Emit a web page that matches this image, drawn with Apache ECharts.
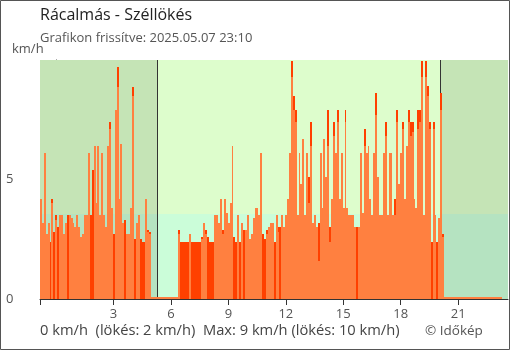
<!DOCTYPE html>
<html><head><meta charset="utf-8">
<script src="https://cdn.jsdelivr.net/npm/echarts@6/dist/echarts.min.js"></script>
<style>html,body{margin:0;padding:0;background:#fff}#c{width:510px;height:350px}</style>
</head><body><div id="c"></div>
<script>
const titleText = 'Rácalmás - Széllökés';
const subtitleText = 'Grafikon frissítve: 2025.05.07 23:10';
const summaryText = '0 km/h  (lökés: 2 km/h)  Max: 9 km/h (lökés: 10 km/h)';
const creditText = '© Időkép';
const unitText = 'km/h';
const startHour = -50 / 60;   // 23:10 on the previous day
const stepHours = 0.1;        // one reading every 6 minutes
const endHour = 23.6;
const xTickLabels = [3, 6, 9, 12, 15, 18, 21];
const yTickLabels = [0, 5];
const sunriseHour = 5.3;
const sunsetHour = 20.08;
const calmLimit = 3.56;
const yMax = 10;

// average wind (km/h)
const windAvg = [
  4.2,3.2,6.1,2.7,3.2,0,4.0,0,3.3,0,
  3.5,3.5,2.7,3.2,0,3.5,3.4,3.2,3.0,3.5,
  3.0,2.6,2.7,3.5,3.5,6.1,0,0,6.4,4.0,
  6.4,3.5,6.1,3.5,3.0,6.4,7.1,3.8,0,7.9,
  8.85,4.2,6.5,3.2,0,2.7,2.7,3.8,8.5,0,
  3.2,3.5,0,0,0,4.2,2.8,2.7,0,0,
  0,0,0,0,0,0,0,0,0,0,
  0,0,2.7,0,0,0,0,0,2.7,0,
  0,0,0,0,2.5,3.2,2.7,0,0,0,
  0,3.5,3.5,3.2,4.2,2.7,4.2,3.6,3.2,4.0,
  6.4,0,0,3.5,0,3.2,0,2.9,3.5,2.5,
  2.7,3.4,3.8,3.8,3.5,6.1,0,0,2.7,3.0,
  3.2,3.2,0,3.5,2.8,0,3.5,3.0,3.5,4.2,
  6.1,9.3,7.9,7.4,3.5,6.1,4.8,6.7,3.5,6.1,
  4.0,6.4,3.2,3.5,3.0,1.6,6.1,3.8,6.7,5.1,
  6.4,2.4,4.2,6.8,6.1,7.4,4.2,6.1,3.8,7.4,
  3.8,3.5,3.5,3.5,3.0,0,3.0,6.1,3.6,6.4,
  6.1,6.4,4.2,3.5,6.1,7.7,5.1,3.5,3.5,6.1,
  6.8,3.5,6.1,6.1,3.5,3.5,7.4,4.8,6.1,7.1,
  4.2,6.4,7.4,6.8,7.0,4.2,3.8,7.1,7.4,9.3,
  3.5,9.3,8.5,7.1,0,7.1,3.5,0,3.4,7.9,
  2.6,0,0,0,0,0,0,0,0,0,
  0,0,0,0,0,0,0,0,0,0,
  0,0,0,0,0,0,0,0,0,0,
  0
];
// gusts (km/h)
const windGust = [
  4.2,3.2,6.1,2.7,3.2,2.4,4.2,2.8,3.5,3.0,
  3.5,3.5,2.7,3.2,3.5,3.5,3.4,3.2,3.0,3.5,
  3.0,2.6,2.7,3.5,3.5,6.1,3.5,5.4,6.4,4.0,
  6.4,3.5,6.1,3.5,3.0,6.4,7.4,3.8,2.7,7.9,
  9.7,4.2,6.5,3.2,3.3,2.7,2.7,3.8,8.85,2.5,
  3.2,3.5,2.5,2.4,2.4,4.2,2.9,2.8,0,0,
  0,0,0,0,0,0,0,0,0,0,
  0,0,2.9,2.4,2.4,2.4,2.4,2.4,2.7,2.4,
  2.4,2.4,2.4,2.4,2.6,3.2,2.9,2.6,2.4,2.4,
  2.4,3.5,3.5,3.2,4.2,2.9,4.2,3.6,3.2,4.0,
  6.4,2.6,2.4,3.5,2.4,3.2,2.9,2.9,3.5,2.5,
  2.7,3.4,3.8,3.8,3.5,6.1,2.7,2.5,2.9,3.0,
  3.2,3.2,2.4,3.5,3.0,3.0,3.5,3.0,3.5,4.2,
  6.1,9.96,8.5,7.9,3.5,6.1,4.8,6.7,3.5,6.1,
  5.1,7.4,3.2,3.5,3.0,3.2,6.1,3.8,6.7,5.1,
  7.9,3.0,4.2,7.4,6.1,7.9,4.2,6.1,3.8,7.9,
  3.8,3.5,3.5,3.5,3.0,3.0,3.0,6.1,3.6,7.1,
  6.1,6.4,4.2,3.5,6.1,8.6,5.1,3.5,3.5,6.1,
  7.4,3.5,6.1,6.1,3.5,4.2,7.9,4.8,6.1,7.4,
  4.2,6.4,7.9,7.4,7.4,4.2,3.8,7.9,7.9,9.96,
  3.5,9.96,8.9,7.4,2.4,7.4,3.5,2.4,3.4,8.6,
  2.7,0,0,0,0,0,0,0,0,0,
  0,0,0,0,0,0,0,0,0,0,
  0,0,0,0,0,0,0,0,0,0,
  0
];

const FONT = 'Open Sans';
const bgColors = ['#c5e4b6', '#b5e3c1', '#ddfdcc', '#cbfdd9'];
const bgRects = [
  [startHour, sunriseHour, calmLimit, yMax, 0],
  [startHour, sunriseHour, 0, calmLimit, 1],
  [sunriseHour, sunsetHour, calmLimit, yMax, 2],
  [sunriseHour, sunsetHour, 0, calmLimit, 3],
  [sunsetHour, endHour, calmLimit, yMax, 0],
  [sunsetHour, endHour, 0, calmLimit, 1]
];
const sunLines = [[sunriseHour], [sunsetHour]];

// [time, value, gust] rows
const toRows = (arr, other) => arr.map((v, i) => [startHour + i * stepHours, v, other[i]]);

function barRenderer(color, drawZeroLine) {
  return (params, api) => {
    const t = api.value(0), v = api.value(1), g = api.value(2);
    const a = api.coord([t, v]);
    const b = api.coord([t + stepHours, 0]);
    const x0 = Math.round(a[0]), x1 = Math.round(b[0]);
    let yTop = Math.round(a[1]);
    const yBot = Math.round(b[1]);
    if (v <= 0) {
      if (!drawZeroLine || g > 0) return null;
      yTop = yBot - 2;
    }
    return {type: 'rect', shape: {x: x0, y: yTop, width: Math.max(1, x1 - x0), height: yBot - yTop},
      style: {fill: color}};
  };
}

const chart = echarts.init(document.getElementById('c'), null, {renderer: 'canvas'});
chart.setOption({
  animation: false,
  backgroundColor: '#ffffff',
  grid: {left: 40, right: 2, top: 60, bottom: 51, containLabel: false},
  xAxis: {
    type: 'value', min: startHour, max: endHour,
    axisLine: {show: true, lineStyle: {color: '#333', width: 1}},
    axisTick: {show: true, length: 6, customValues: [startHour].concat(xTickLabels), lineStyle: {color: '#333'}},
    axisLabel: {customValues: xTickLabels, color: '#555', fontSize: 13, fontFamily: FONT, margin: 9},
    splitLine: {show: false}
  },
  yAxis: [{
    type: 'value', min: 0, max: yMax,
    axisLine: {show: true, lineStyle: {color: '#333', width: 1}},
    axisTick: {show: true, length: 6, customValues: yTickLabels, lineStyle: {color: '#333'}},
    axisLabel: {customValues: yTickLabels, color: '#555', fontSize: 13, fontFamily: FONT, margin: 34, align: 'left'},
    splitLine: {show: false}
  }, {
    type: 'value', min: 0, max: yMax, position: 'left',
    axisLine: {show: false},
    axisTick: {show: true, inside: true, length: 6, customValues: [5], lineStyle: {color: '#333'}},
    axisLabel: {show: false},
    splitLine: {show: false}
  }],
  series: [{
    type: 'custom', z: 1, silent: true,
    data: bgRects,
    renderItem: (params, api) => {
      const p0 = api.coord([api.value(0), api.value(3)]);
      const p1 = api.coord([api.value(1), api.value(2)]);
      return {type: 'rect', shape: {x: p0[0], y: p0[1], width: p1[0] - p0[0], height: p1[1] - p0[1]},
        style: {fill: bgColors[api.value(4)]}};
    }
  }, {
    type: 'custom', z: 2, silent: true,
    data: sunLines,
    renderItem: (params, api) => {
      const top = api.coord([api.value(0), yMax]);
      const bot = api.coord([api.value(0), 0]);
      const x = Math.floor(top[0]) + 0.5;
      return {type: 'line', shape: {x1: x, y1: top[1], x2: x, y2: bot[1]},
        style: {stroke: '#333', lineWidth: 1}};
    }
  }, {
    name: 'Széllökés', type: 'custom', z: 3, silent: true,
    data: toRows(windGust, windGust),
    renderItem: barRenderer('#ff4000', false)
  }, {
    name: 'Szél', type: 'custom', z: 4, silent: true,
    data: toRows(windAvg, windGust),
    renderItem: barRenderer('#ff8040', true)
  }],
  graphic: [
    {type: 'rect', shape: {x: 0.5, y: 0.5, width: 509, height: 349}, style: {fill: 'none', stroke: '#555', lineWidth: 1}, silent: true},
    {type: 'text', left: 40, top: 7, style: {text: titleText, font: '16px "Open Sans"', fill: '#222'}},
    {type: 'text', left: 40, top: 32, style: {text: subtitleText, font: '13px "Open Sans"', fill: '#555'}},
    {type: 'text', left: 12, top: 43, style: {text: unitText, font: '13px "Open Sans"', fill: '#555'}},
    {type: 'text', left: 40, top: 323, style: {text: summaryText, font: '14.7px "Open Sans"', fill: '#444'}},
    {type: 'text', left: 425, top: 324, style: {text: creditText, font: '13.5px "Open Sans"', fill: '#555'}}
  ]
});
</script>
</body></html>
